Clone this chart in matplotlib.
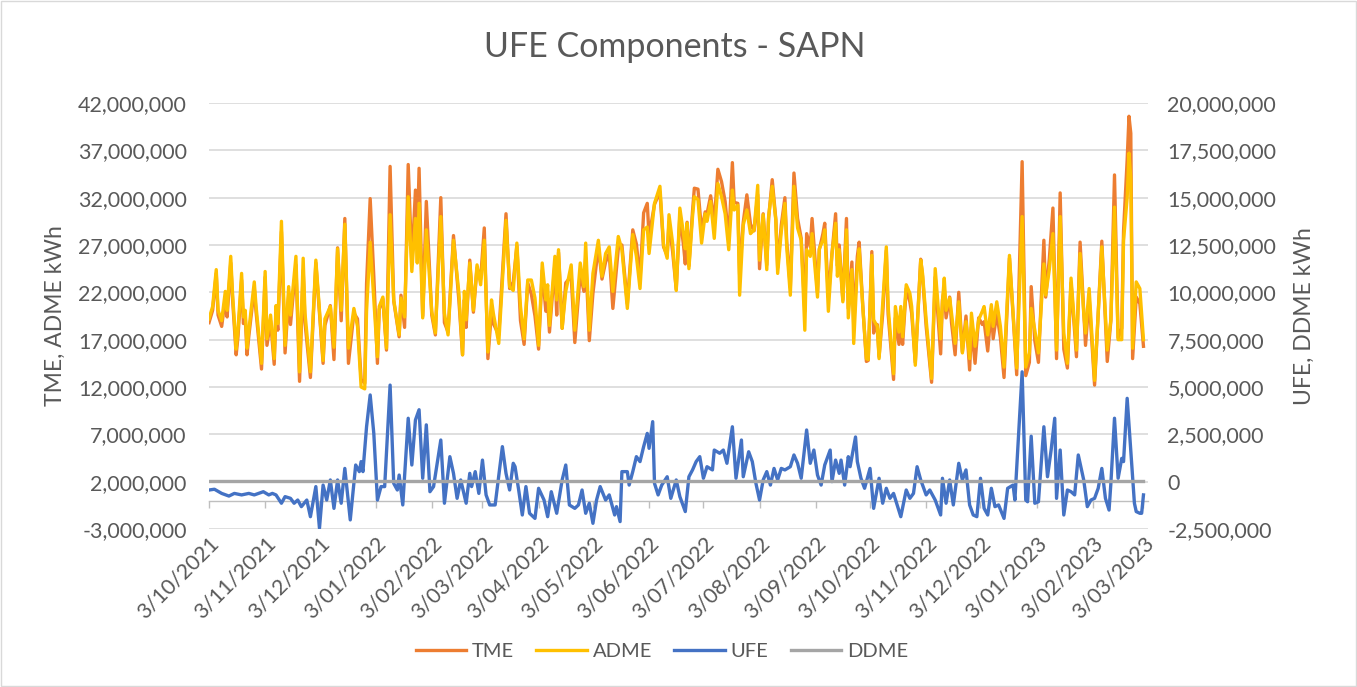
import numpy as np
import pandas as pd
import matplotlib
matplotlib.use("Agg")
import matplotlib.pyplot as plt
from matplotlib.patches import Rectangle
from matplotlib.ticker import FuncFormatter

plt.rcParams['font.family'] = ['Lato', 'DejaVu Sans']

start = pd.Timestamp('2021-10-03')
end = pd.Timestamp('2023-03-03')

# days since 3/10/2021 where TME / ADME were read (millions of kWh)
meter_day = [0, 2, 4, 5, 7, 9, 10, 12, 13, 15, 16, 18, 19, 20, 21, 22, 25, 26, 29, 31,
             32, 34, 36, 37, 38, 40, 42, 44, 45, 48, 50, 52, 53, 56, 59, 63, 64, 67, 69, 71,
             73, 75, 77, 80, 82, 84, 86, 87, 89, 91, 93, 94, 96, 98, 100, 102, 105, 106, 108, 110,
             112, 114, 115, 116, 118, 120, 123, 125, 128, 130, 132, 135, 138, 140, 141, 142, 144, 146, 148, 150,
             152, 154, 156, 157, 160, 164, 166, 168, 170, 172, 174, 176, 178, 180, 182, 184, 186, 187, 188, 191,
             192, 193, 195, 197, 200, 202, 205, 207, 208, 210, 212, 215, 217, 219, 221, 223, 226, 228, 231, 234,
             236, 238, 240, 242, 243, 246, 249, 251, 253, 254, 256, 258, 260, 262, 263, 264, 265, 267, 268, 270,
             272, 274, 275, 277, 279, 281, 283, 285, 287, 289, 290, 292, 293, 295, 297, 299, 301, 303, 304, 306,
             308, 309, 311, 313, 314, 316, 318, 319, 321, 323, 325, 327, 329, 330, 332, 333, 336, 337, 339, 340,
             342, 344, 346, 347, 348, 350, 352, 353, 355, 356, 358, 359, 361, 363, 364, 366, 367, 369, 370, 372,
             374, 375, 378, 379, 381, 382, 383, 385, 387, 388, 390, 393, 394, 396, 399, 401, 404, 405, 406, 407,
             409, 410, 412, 414, 416, 418, 420, 421, 423, 425, 427, 428, 430, 432, 433, 435, 437, 439, 442, 444,
             446, 449, 451, 453, 454, 456, 458, 461, 462, 464, 466, 468, 470, 472, 474, 476, 479, 481, 483, 484,
             486, 489, 493, 496, 498, 500, 502, 504, 505, 507, 508, 509, 510, 512, 514, 516]

adme = [19.2, 20.5, 24.4, 20.1, 19.0, 22.1, 20.1, 25.8, 21.9, 16.0, 18.0, 24.0, 19.4, 20.1, 16.1, 18.0, 23.1, 20.5, 14.5, 24.2,
        17.1, 19.6, 15.0, 20.6, 18.7, 29.5, 16.4, 22.6, 19.6, 25.8, 13.6, 25.6, 19.8, 13.6, 25.4, 14.8, 19.2, 20.5, 16.2, 26.6,
        20.1, 29.2, 16.1, 20.3, 18.4, 12.0, 11.8, 20.0, 27.3, 21.2, 15.2, 20.5, 21.5, 16.1, 30.2, 21.2, 17.5, 21.4, 19.4, 32.1,
        24.2, 29.8, 25.1, 31.4, 19.3, 28.6, 20.0, 17.7, 30.0, 19.8, 17.5, 27.5, 21.9, 15.4, 22.1, 19.1, 25.1, 20.1, 24.9, 22.8,
        27.5, 15.7, 21.2, 19.8, 16.6, 29.6, 22.6, 22.2, 27.2, 20.5, 17.1, 23.3, 23.3, 21.4, 16.4, 25.1, 21.2, 22.8, 18.5, 25.8,
        21.2, 26.5, 18.2, 22.1, 24.9, 18.0, 25.1, 22.6, 27.2, 18.0, 24.0, 27.5, 23.7, 26.1, 26.8, 22.1, 27.9, 26.5, 20.3, 28.1,
        25.8, 22.4, 28.6, 28.9, 26.1, 31.4, 33.2, 27.0, 25.6, 30.2, 27.2, 22.2, 30.9, 28.2, 26.6, 29.3, 24.5, 30.0, 32.1, 31.8,
        27.2, 30.3, 29.5, 31.6, 27.7, 33.5, 32.1, 30.3, 26.5, 32.8, 30.7, 31.2, 21.7, 29.1, 30.7, 28.2, 28.6, 33.3, 25.4, 30.2,
        24.4, 30.0, 33.2, 29.6, 24.0, 28.4, 31.4, 26.8, 21.7, 33.2, 28.8, 27.5, 18.0, 26.5, 25.8, 28.2, 21.5, 26.6, 27.5, 28.6,
        20.0, 26.1, 29.3, 23.7, 26.5, 21.0, 28.6, 19.3, 24.4, 16.6, 24.7, 26.6, 20.5, 15.0, 14.9, 25.9, 19.1, 18.4, 15.0, 20.8,
        26.8, 20.5, 13.4, 20.5, 17.8, 20.5, 17.3, 22.8, 21.9, 20.5, 14.3, 25.4, 24.0, 19.1, 12.9, 24.5, 17.1, 21.0, 23.5, 20.1,
        21.4, 19.8, 16.6, 21.0, 15.6, 18.9, 15.0, 19.8, 16.3, 19.1, 20.0, 20.5, 17.5, 20.7, 18.4, 21.0, 18.4, 14.1, 25.9, 19.8,
        14.0, 30.0, 14.1, 15.6, 20.3, 18.0, 15.6, 25.0, 21.7, 24.4, 28.2, 15.9, 30.0, 17.7, 14.5, 23.5, 15.9, 26.1, 19.8, 17.7,
        22.4, 12.7, 26.8, 15.9, 19.1, 31.0, 17.0, 17.0, 27.5, 32.0, 36.7, 34.0, 16.1, 23.1, 22.4, 17.0]

tme = [18.8, 20.1, 24.0, 19.6, 18.4, 21.4, 19.4, 25.1, 21.3, 15.4, 17.3, 23.3, 18.7, 19.5, 15.4, 17.4, 22.4, 19.9, 13.9, 23.6,
       16.4, 19.0, 14.4, 19.9, 18.0, 28.4, 15.6, 21.7, 18.6, 24.9, 12.6, 24.3, 18.8, 13.0, 25.1, 14.5, 18.5, 20.6, 14.9, 26.7,
       19.0, 29.8, 14.5, 19.8, 19.2, 12.8, 12.4, 22.9, 31.9, 23.7, 14.5, 20.2, 21.3, 15.9, 35.3, 21.1, 17.3, 21.7, 18.3, 35.5,
       25.0, 32.8, 27.5, 35.1, 19.5, 31.6, 19.6, 17.5, 32.0, 18.8, 17.8, 28.0, 21.1, 15.4, 21.2, 18.3, 25.4, 19.9, 24.6, 23.4,
       28.8, 15.0, 20.0, 18.7, 17.5, 30.3, 22.4, 23.1, 26.9, 19.0, 16.5, 23.0, 21.8, 19.5, 16.0, 24.3, 20.0, 21.0, 17.8, 25.0,
       19.6, 26.2, 18.2, 23.0, 23.7, 16.7, 24.0, 22.1, 25.6, 16.9, 21.9, 26.8, 23.4, 25.2, 26.1, 20.3, 26.6, 27.0, 20.8, 28.6,
       27.1, 23.4, 30.4, 31.4, 27.9, 31.3, 32.6, 26.8, 25.9, 29.4, 26.3, 22.3, 30.1, 27.0, 25.0, 29.4, 24.8, 30.6, 33.0, 32.9,
       28.5, 30.5, 30.3, 32.2, 29.4, 35.0, 33.7, 31.6, 27.5, 35.7, 31.5, 31.4, 23.9, 29.4, 32.3, 29.2, 28.5, 32.3, 24.5, 30.3,
       24.9, 29.8, 33.9, 29.7, 24.6, 29.1, 32.0, 27.4, 22.5, 34.6, 29.8, 27.7, 20.0, 28.2, 26.8, 29.8, 22.0, 26.5, 28.2, 29.3,
       21.5, 26.1, 30.3, 24.8, 27.0, 21.2, 29.8, 20.3, 25.2, 18.5, 25.8, 27.3, 20.6, 14.7, 14.8, 26.3, 17.7, 18.6, 15.2, 19.7,
       26.4, 19.7, 12.8, 19.3, 16.5, 18.7, 16.5, 22.4, 21.0, 19.8, 14.6, 25.5, 23.7, 18.4, 12.5, 23.6, 15.5, 21.2, 22.4, 19.3,
       21.5, 18.8, 15.4, 22.0, 15.7, 19.5, 13.8, 18.3, 14.5, 19.3, 18.6, 18.9, 15.8, 20.3, 17.1, 19.8, 17.2, 13.0, 25.6, 19.6,
       13.3, 35.8, 13.2, 14.6, 22.6, 16.9, 14.6, 27.5, 21.5, 25.5, 30.9, 15.0, 32.5, 16.0, 14.0, 23.0, 15.2, 27.3, 19.9, 16.4,
       21.4, 12.2, 27.4, 14.7, 19.0, 34.4, 17.2, 18.2, 28.5, 36.0, 40.6, 38.8, 15.0, 21.5, 20.8, 16.3]

# UFE, right axis (millions of kWh)
ufe_day = [0, 3, 7, 11, 14, 18, 22, 25, 30, 33, 35, 37, 40, 42, 45, 47, 49, 51, 54, 56,
           59, 61, 63, 65, 67, 69, 71, 73, 75, 78, 81, 83, 84, 85, 87, 89, 91, 93, 95, 97,
           100, 102, 104, 105, 107, 110, 112, 114, 116, 118, 120, 122, 124, 128, 130, 133, 135, 137, 139, 142,
           144, 145, 147, 149, 151, 153, 155, 158, 162, 164, 166, 168, 169, 171, 173, 175, 177, 180, 182, 185,
           187, 189, 192, 195, 197, 199, 202, 204, 206, 208, 210, 212, 214, 216, 219, 221, 224, 225, 227, 228,
           231, 232, 234, 236, 238, 240, 242, 243, 245, 246, 248, 250, 253, 255, 258, 260, 263, 265, 267, 269,
           271, 273, 275, 278, 279, 282, 284, 286, 289, 291, 294, 295, 298, 300, 302, 304, 306, 308, 310, 312,
           314, 316, 318, 321, 323, 325, 327, 330, 332, 334, 336, 338, 340, 343, 344, 346, 348, 349, 351, 353,
           354, 357, 358, 360, 362, 365, 367, 370, 372, 374, 376, 378, 380, 382, 385, 387, 389, 391, 393, 396,
           398, 401, 404, 405, 407, 409, 411, 414, 416, 418, 420, 422, 424, 426, 428, 430, 432, 434, 436, 439,
           441, 444, 445, 447, 449, 451, 452, 454, 456, 458, 461, 463, 465, 467, 468, 470, 472, 474, 476, 478,
           480, 483, 485, 487, 489, 491, 493, 495, 497, 498, 500, 502, 504, 505, 507, 509, 511, 512, 514, 515,
           516]

ufe = [-0.44, -0.40, -0.62, -0.76, -0.62, -0.70, -0.62, -0.70, -0.53, -0.70, -0.62, -0.70, -1.14, -0.79, -0.88, -1.14, -0.97, -1.32, -0.97, -1.85,
       -0.26, -2.46, -0.18, -0.97, 0.09, -1.41, 0.09, -1.14, 0.70, -2.02, 0.88, 0.53, 1.06, 0.53, 2.90, 4.58, 2.55, -0.97, -0.26, -0.26,
       5.10, -0.09, -0.44, 0.35, -1.23, 3.35, 0.88, 3.26, 3.80, 0.18, 3.00, -0.53, -0.26, 2.20, -1.14, 1.32, 0.44, -0.88, 0.09, -1.14,
       0.44, -0.26, 0.53, -0.62, 1.14, -0.70, -1.23, -1.23, 1.85, 0.44, -0.44, 0.97, 0.79, -0.44, -1.76, -0.26, -1.67, -1.94, -0.35, -0.97,
       -1.85, -0.53, -1.67, 0.09, 0.88, -1.23, -1.41, -1.23, -0.44, -1.67, -1.14, -2.20, -0.97, -0.26, -0.97, -0.70, -1.76, -1.32, -2.11, 0.53,
       0.53, -0.18, 0.53, 1.32, 1.06, 1.85, 2.55, 1.76, 3.17, -0.09, -0.70, -0.18, 0.26, -0.88, 0.09, -0.79, -1.58, 0.26, 0.62, 1.06,
       1.32, 0.18, 0.79, 0.62, 1.67, 1.50, 1.67, 0.97, 2.90, 0.18, 2.20, 0.26, 1.58, 1.06, -0.09, -0.97, 0.09, 0.53, -0.18, 0.70,
       0.09, 0.70, 0.62, 0.79, 1.41, 0.97, 0.18, 2.73, 0.97, 1.67, 0.35, -0.18, 0.88, 1.67, 0.00, 1.14, 0.44, 1.14, -0.18, 1.32,
       0.79, 2.36, 1.06, 0.18, -0.35, 0.70, -1.41, 0.18, -1.14, -0.35, -0.88, -0.62, -1.23, -1.85, -0.44, -0.88, -0.62, 0.79, 0.09, -0.70,
       -0.44, -0.97, -1.76, 0.18, -1.14, 0.09, -1.23, 0.97, 0.09, 0.62, -1.23, -1.76, -1.85, 0.18, -1.41, -1.76, -0.35, -1.32, -1.23, -1.94,
       -0.35, -0.18, -0.97, 2.40, 5.80, -0.97, -1.06, 2.40, -1.14, -1.06, 2.90, 0.26, 1.67, 3.35, -0.88, 1.67, -1.76, -0.44, -0.53, -0.70,
       1.41, 0.09, -1.32, -0.97, -0.88, -0.35, 0.70, -0.88, -1.50, -0.09, 3.35, 0.18, 1.23, 1.06, 4.40, 1.67, -1.14, -1.58, -1.67, -1.67,
       -0.70]

ddme_day = [0, 516]
ddme = [0.02, 0.02]

left_ticks = np.arange(-3, 43, 5) * 1e6
right_ticks = np.arange(-2.5, 20.1, 2.5) * 1e6
month_ticks = pd.date_range('2021-10-01', end, freq='MS') + pd.Timedelta(days=2)
tick_days = [(d - start).days for d in month_ticks]
tick_labels = [f"{d.day}/{d.month:02d}/{d.year}" for d in month_ticks]

text_col = '#595959'
grid_col = '#D9D9D9'

fig = plt.figure(figsize=(13.57, 6.87), dpi=100)
ax = fig.add_axes([209 / 1357, 1 - 529 / 687, 939 / 1357, 426 / 687])
ax2 = ax.twinx()

ax.plot(meter_day, np.array(tme) * 1e6, color='#ED7D31', lw=2.4, label='TME', solid_joinstyle='round')
ax.plot(meter_day, np.array(adme) * 1e6, color='#FFC000', lw=2.4, label='ADME', solid_joinstyle='round')
ax2.plot(ufe_day, np.array(ufe) * 1e6, color='#4472C4', lw=2.4, label='UFE', solid_joinstyle='round')
ax2.plot(ddme_day, np.array(ddme) * 1e6, color='#A5A5A5', lw=2.4, label='DDME')

fmt = FuncFormatter(lambda v, p: f"{v:,.0f}")
ax.set_ylim(-3e6, 42e6)
ax.set_yticks(left_ticks)
ax.yaxis.set_major_formatter(fmt)
ax2.set_ylim(-2.5e6, 20e6)
ax2.set_yticks(right_ticks)
ax2.yaxis.set_major_formatter(fmt)
ax.set_xlim(0, 518.5)

ax.grid(axis='y', color=grid_col, lw=1.2)
ax.set_axisbelow(True)
for s in ax.spines.values():
    s.set_visible(False)
for s in ax2.spines.values():
    s.set_visible(False)
ax.spines['bottom'].set_visible(True)
ax.spines['bottom'].set_position(('data', 0))
ax.spines['bottom'].set_color('#BFBFBF')
ax.spines['bottom'].set_linewidth(1.0)

ax.set_xticks(tick_days)
ax.tick_params(axis='x', direction='out', length=5, width=1, color='#BFBFBF', labelbottom=False)
ax.tick_params(axis='y', length=0, pad=16, labelsize=15.5, labelcolor=text_col)
ax2.tick_params(axis='y', length=0, pad=14, labelsize=15.5, labelcolor=text_col)

sec = ax.secondary_xaxis(0)
sec.spines['bottom'].set_visible(False)
sec.set_xticks(tick_days, labels=tick_labels, rotation=45, ha='right', rotation_mode='anchor')
sec.tick_params(axis='x', length=0, pad=3, labelsize=15.5, labelcolor=text_col)
for lbl in sec.get_xticklabels():
    lbl.set_x(lbl.get_position()[0] + 3)

ax.set_ylabel('TME, ADME kWh', fontsize=16.5, color=text_col)
ax.yaxis.set_label_coords(-0.152, 0.5)
ax2.set_ylabel('UFE, DDME kWh', fontsize=16.5, color=text_col, rotation=90)
ax2.yaxis.set_label_coords(1.155, 0.5)

fig.text(0.497, 0.932, 'UFE Components - SAPN', ha='center', va='center', fontsize=24.5, color=text_col)

h1, l1 = ax.get_legend_handles_labels()
h2, l2 = ax2.get_legend_handles_labels()
fig.legend(h1 + h2, l1 + l2, loc='center', bbox_to_anchor=(662 / 1357, 1 - 651 / 687), ncol=4,
           frameon=False, fontsize=14.5, labelcolor=text_col, handlelength=2.5,
           handletextpad=0.3, columnspacing=1.1)

fig.patches.append(Rectangle((0.001, 0.001), 0.998, 0.997, transform=fig.transFigure,
                             fill=False, edgecolor=grid_col, lw=1))

fig.savefig('out.png', dpi=100, facecolor='white')
